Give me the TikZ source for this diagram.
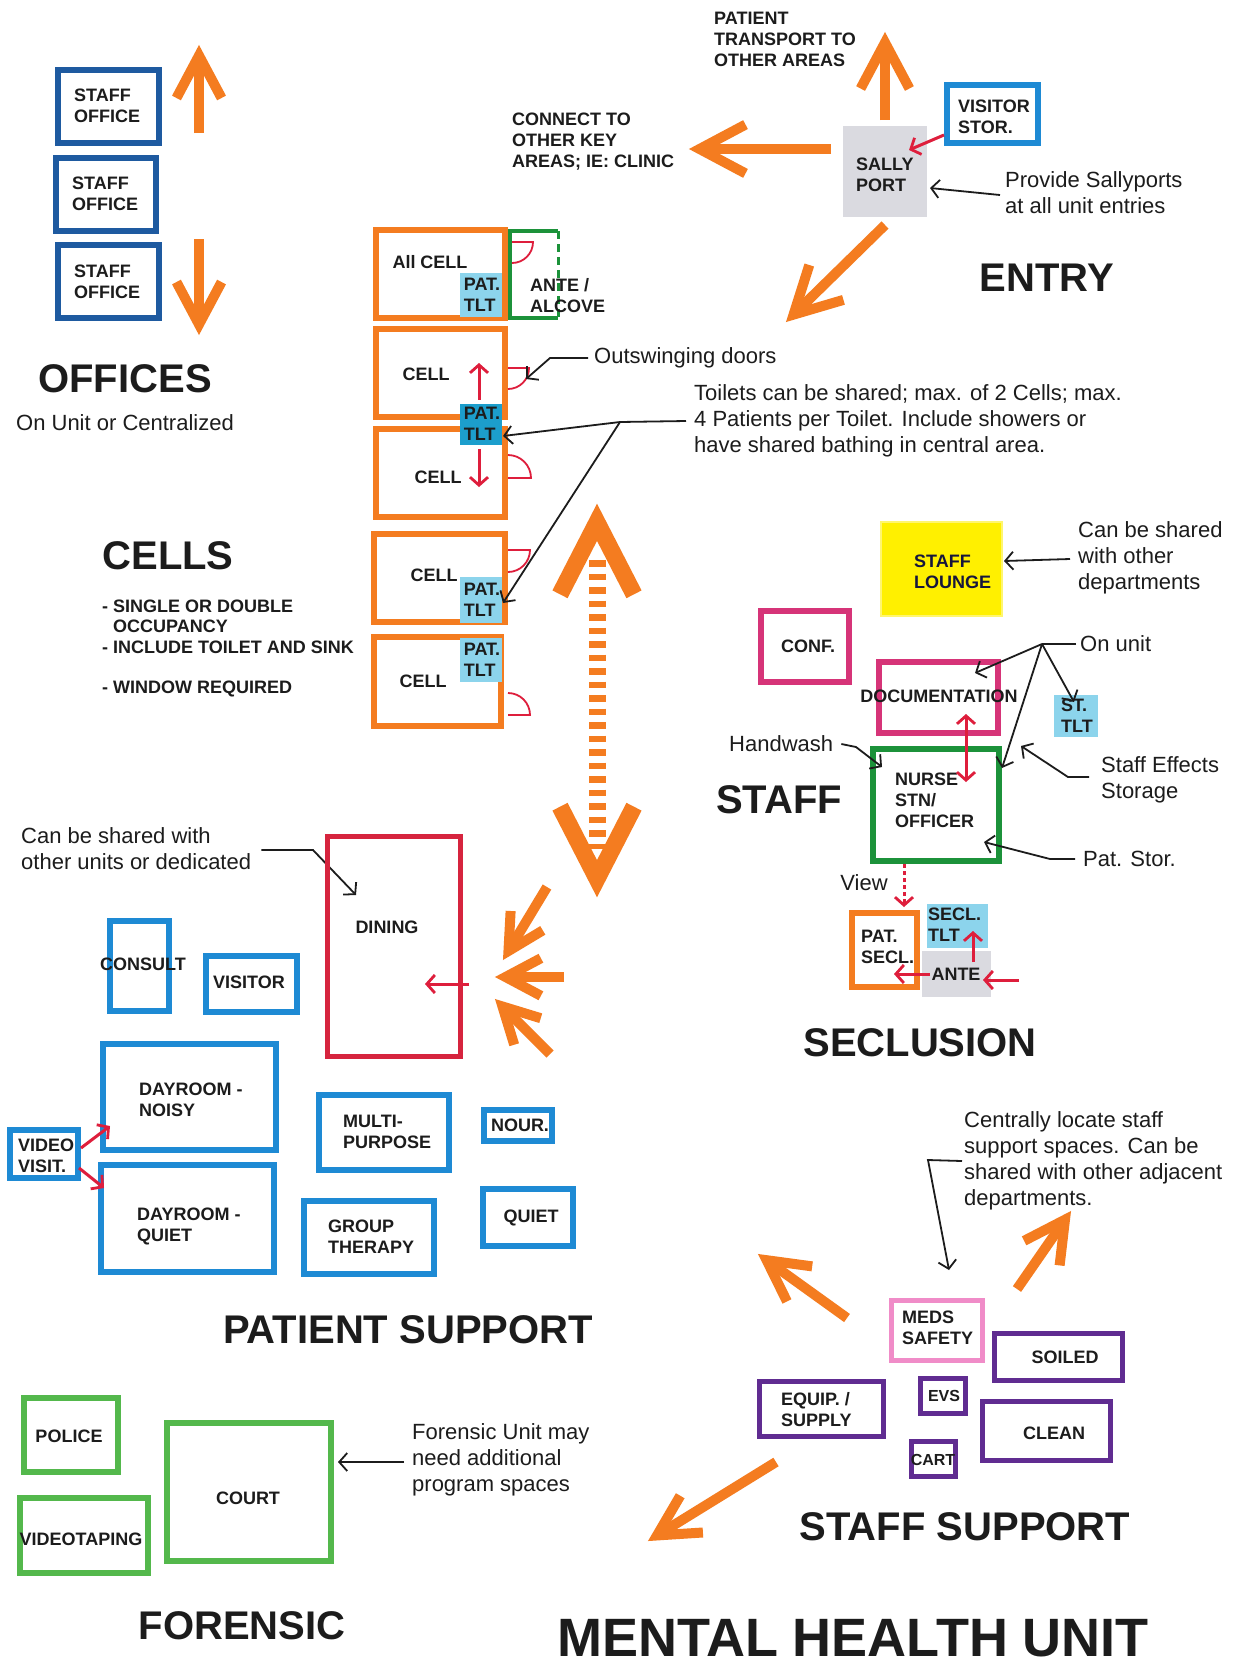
\documentclass[tikz,border=0pt]{standalone}
\usepackage{fontspec}
\setmainfont{Liberation Sans}
\usetikzlibrary{calc,arrows.meta,fit}

\definecolor{ink}{RGB}{28,28,28}
\definecolor{orangec}{RGB}{244,124,32}
\definecolor{offblue}{RGB}{30,90,160}
\definecolor{psblue}{RGB}{30,138,212}
\definecolor{tltlight}{RGB}{140,212,236}
\definecolor{tltdark}{RGB}{28,158,204}
\definecolor{redc}{RGB}{222,30,60}
\definecolor{dinred}{RGB}{214,36,62}
\definecolor{pinkc}{RGB}{214,52,120}
\definecolor{medpink}{RGB}{240,140,200}
\definecolor{purplec}{RGB}{96,44,145}
\definecolor{nursegreen}{RGB}{28,146,58}
\definecolor{forgreen}{RGB}{84,184,76}
\definecolor{lounge}{RGB}{255,240,0}
\definecolor{loungeedge}{RGB}{255,246,110}
\definecolor{portgray}{RGB}{218,218,224}
\definecolor{navyink}{RGB}{22,22,60}

\tikzset{
  roombox/.style={line width=6pt, inner sep=-3pt},
  padbox/.style={inner sep=0pt, draw=none},
  lbl/.style={font=\bfseries\fontsize{18}{21}\selectfont, text=ink, align=left, inner sep=0pt},
  smlbl/.style={font=\bfseries\fontsize{16}{19}\selectfont, text=ink, align=left, inner sep=0pt},
  note/.style={font=\fontsize{22}{26}\selectfont, text=ink, align=left, inner sep=0pt},
  head/.style={font=\bfseries\fontsize{40}{44}\selectfont, text=ink, inner sep=0pt},
  lead/.style={line width=1.8pt, draw=ink, -{Straight Barb[length=8pt,width=18pt,line width=1.8pt]}},
  redtip/.tip={Straight Barb[length=8pt,width=18pt,line width=2.8pt]},
  redarr/.style={line width=3pt, draw=redc, -redtip},
  door/.style={line width=1.8pt, draw=redc},
  orarr/.style={line width=10pt, draw=orangec},
}

% a room outline whose outer edge runs through the two given corners
\newcommand\room[5][]{\node[roombox,draw=#3,#1,fit={#4 #5}] (#2) {};}
% a filled space without outline
\newcommand\pad[4]{\node[padbox,fill=#2,fit={#3 #4}] (#1) {};}
% thick orange flow arrow from a start coordinate to a tip coordinate
\newcommand\orarrow[3][48]{%
  \path ($(#3)!10.6pt!(#2)$) coordinate (oa-v);
  \draw[orarr] (#2) -- (oa-v);
  \draw[orarr, line join=miter] ($(oa-v)!#1pt!28:(#2)$) -- (oa-v) -- ($(oa-v)!#1pt!-28:(#2)$);
}

\begin{document}
\begin{tikzpicture}[x=1pt,y=-1pt]
\useasboundingbox[fill=white] (0,0) rectangle (1239,1666);

% ---------------- OFFICES ----------------
\room{off1}{offblue}{(55,67)}{(162,146)}
\room{off2}{offblue}{(53,155)}{(159,234)}
\room{off3}{offblue}{(55,242)}{(162,321)}
\node[lbl,anchor=west] (off1t) at (74,106) {STAFF\\OFFICE};
\node[lbl,anchor=west] (off2t) at (72,194) {STAFF\\OFFICE};
\node[lbl,anchor=west] (off3t) at (74,282) {STAFF\\OFFICE};
\coordinate (offup-s) at (199,133); \coordinate (offup-t) at (199,45);
\orarrow[48]{offup-s}{offup-t}
\coordinate (offdn-s) at (199,239); \coordinate (offdn-t) at (199,335);
\orarrow[48]{offdn-s}{offdn-t}
\node[head] (offh) at (125,379) {OFFICES};
\node[note] (offn) at (125,423) {On Unit or Centralized};

% ---------------- ENTRY ----------------
\node[lbl,anchor=west] (transp) at (714,39) {PATIENT\\TRANSPORT TO\\OTHER AREAS};
\node[lbl,anchor=west] (connect) at (512,142) {CONNECT TO\\OTHER KEY\\AREAS; IE: CLINIC};
\pad{sally}{portgray}{(843,126)}{(927,217)}
\node[lbl,anchor=west] (sallyt) at (856,175) {SALLY\\PORT};
\room{vstor}{psblue}{(944,82)}{(1041,146)}
\node[lbl,anchor=west] (vstort) at (958,117) {VISITOR\\STOR.};
\coordinate (entup-s) at (885,120); \coordinate (entup-t) at (885,32);
\orarrow[52]{entup-s}{entup-t}
\coordinate (entl-s) at (831,149); \coordinate (entl-t) at (689,149);
\orarrow[52]{entl-s}{entl-t}
\coordinate (entd-s) at (885,225); \coordinate (entd-t) at (786,322);
\orarrow[52]{entd-s}{entd-t}
\coordinate (vstor-tip) at (909,150);
\draw[redarr] ($(vstor.west)+(0,21)$) -- (vstor-tip);
\node[note,anchor=west] (sallynote) at (1005,193) {Provide Sallyports\\at all unit entries};
\coordinate (sally-tip) at (930,188);
\draw[lead] ($(sallynote.west)+(-5,2)$) -- (sally-tip);
\node[head] (entryh) at (1047,278) {ENTRY};

% ---------------- CELLS ----------------
\room{c1}{orangec}{(373,227)}{(508,321)}
\room{c2}{orangec}{(373,326)}{(508,420)}
\room{c3}{orangec}{(373,426)}{(508,520)}
\room{c4}{orangec}{(371,531)}{(508,625)}
\room{c5}{orangec}{(371,634)}{(504,729)}
\pad{t1}{tltlight}{(460,273)}{(502,317)}
\pad{t23}{tltdark}{(460,404)}{(502,445)}
\pad{t4}{tltlight}{(460,577)}{(502,623)}
\pad{t5}{tltlight}{(460,638)}{(502,682)}
\node[lbl] (c1t) at (430,262) {All CELL};
\node[lbl] (c2t) at (426,374) {CELL};
\node[lbl] (c3t) at (438,477) {CELL};
\node[lbl] (c4t) at (434,575) {CELL};
\node[lbl] (c5t) at (423,681) {CELL};
\node[lbl] (t1t) at (482,295) {PAT.\\TLT};
\node[lbl] (t23t) at (482,424) {PAT.\\TLT};
\node[lbl] (t4t) at (482,600) {PAT.\\TLT};
\node[lbl] (t5t) at (482,660) {PAT.\\TLT};
% ante / alcove with open (dashed) side
\draw[line width=3.5pt, nursegreen] (558,231) -- (510,231) -- (510,318) -- (558,318);
\draw[line width=3pt, nursegreen, dash pattern=on 8pt off 5pt] (558,231) -- (558,318);
\node[lbl,anchor=west] (antet) at (530,296) {ANTE /\\ALCOVE};
% door swings
\draw[door] (512,242) -- (533,242) arc[start angle=0,end angle=-90,radius=21pt];
\draw[door] (508,368) -- (529,368) arc[start angle=0,end angle=-90,radius=21pt];
\draw[door] (508,455) arc[start angle=90,end angle=0,radius=23pt] -- (508,478);
\draw[door] (508,550) -- (530,550) arc[start angle=0,end angle=-90,radius=22pt];
\draw[door] (508,693) arc[start angle=90,end angle=0,radius=22pt] -- (508,715);
% shared toilet access
\coordinate (tup) at (479,363); \coordinate (tdn) at (479,487);
\draw[redarr] (t23.north -| tup) ++(0,-4) -- (tup);
\draw[redarr] (t23.south -| tdn) ++(0,4) -- (tdn);
\node[note,anchor=west] (outsw) at (594,358) {Outswinging doors};
\coordinate (outsw-b) at (550,358); \coordinate (outsw-tip) at (526,379);
\draw[lead] ($(outsw.west)+(-6,0)$) -- (outsw-b) -- (outsw-tip);
\node[note,anchor=west] (toil) at (694,421) {Toilets can be shared; max. of 2 Cells; max.\\4 Patients per Toilet. Include showers or\\have shared bathing in central area.};
\coordinate (tjun) at (620,422); \coordinate (ttip1) at (503,436); \coordinate (ttip2) at (503,603);
\draw[lead] ($(toil.west)+(-8,0)$) -- (tjun) -- (ttip1);
\draw[lead] (tjun) -- (ttip2);
\node[head] (cellsh) at (168,556) {CELLS};
\node[lbl,anchor=west] (b1) at (102,606) {- SINGLE OR DOUBLE};
\node[lbl,anchor=west] (b1b) at (113,626) {OCCUPANCY};
\node[lbl,anchor=west] (b2) at (102,647) {- INCLUDE TOILET AND SINK};
\node[lbl,anchor=west] (b3) at (102,689) {- WINDOW REQUIRED};

% ---------------- CIRCULATION ----------------
\coordinate (dtop) at (597,504); \coordinate (dbot) at (597,897);
\draw[orangec, line width=17pt, dash pattern=on 6.5pt off 7pt] ($(dtop)+(0,56)$) -- ($(dbot)+(0,-48)$);
\path ($(dtop)+(0,18.3)$) coordinate (dtv) ($(dbot)+(0,-18.3)$) coordinate (dbv);
\draw[orangec, line width=17pt, line join=miter] ($(dtv)+(-37,72)$) -- (dtv) -- ($(dtv)+(37,72)$);
\draw[orangec, line width=17pt, line join=miter] ($(dbv)+(-37,-72)$) -- (dbv) -- ($(dbv)+(37,-72)$);

% ---------------- STAFF ----------------
\node[padbox,fill=lounge,draw=loungeedge,line width=2pt,inner sep=-1pt,fit={(880,521) (1003,617)}] (lounge) {};
\node[lbl,text=navyink,anchor=west] (lounget) at (914,572) {STAFF\\LOUNGE};
\node[note,anchor=west] (sharednote) at (1078,558) {Can be shared\\with other\\departments};
\coordinate (lounge-tip) at (1004,561);
\draw[lead] ($(sharednote.west)+(-8,1)$) -- (lounge-tip);
\room{conf}{pinkc}{(758,608)}{(852,685)}
\node[lbl] (conft) at (808,646) {CONF.};
\room{doc}{pinkc}{(876,659)}{(1001,736)}
\node[lbl] (doct) at (939,696) {DOCUMENTATION};
\pad{sttlt}{tltlight}{(1054,695)}{(1098,737)}
\node[lbl] (sttltt) at (1077,716) {ST.\\TLT};
\room{nurse}{nursegreen}{(870,746)}{(1002,864)}
\node[lbl,anchor=west] (nurset) at (895,800) {NURSE\\STN/\\OFFICER};
\draw[redarr, redtip-redtip] (966,714) -- (966,782);
\node[note,anchor=west] (onunit) at (1080,644) {On unit};
\coordinate (ojun) at (1042,644);
\coordinate (otip1) at (975,673); \coordinate (otip2) at (1074,702); \coordinate (otip3) at (1002,768);
\draw[line width=1.8pt, ink] ($(onunit.west)+(-4,0)$) -- (ojun);
\draw[lead] (ojun) -- (otip1);
\draw[lead] (ojun) -- (otip2);
\draw[lead] (ojun) -- (otip3);
\node[note,anchor=west] (effects) at (1101,780) {Staff Effects\\Storage};
\coordinate (eff-b) at (1068,777); \coordinate (eff-tip) at (1021,746);
\draw[lead] ($(effects.west)+(-12,-3)$) -- (eff-b) -- (eff-tip);
\node[note,anchor=west] (handwash) at (729,744) {Handwash};
\coordinate (hw-b) at (856,747); \coordinate (hw-tip) at (882,767);
\draw[lead] ($(handwash.east)+(8,0)$) -- (hw-b) -- (hw-tip);
\node[note,anchor=west] (patstor) at (1083,859) {Pat. Stor.};
\coordinate (ps-b) at (1050,859); \coordinate (ps-tip) at (984,842);
\draw[lead] ($(patstor.west)+(-8,0)$) -- (ps-b) -- (ps-tip);
\node[head] (staffh) at (779,800) {STAFF};

% ---------------- SECLUSION ----------------
\node[note] (view) at (864,883) {View};
\room{psecl}{orangec}{(849,910)}{(920,990)}
\pad{secltlt}{tltlight}{(927,904)}{(988,948)}
\pad{ante}{portgray}{(922,951)}{(991,997)}
\node[lbl,anchor=west] (psecltxt) at (861,947) {PAT.\\SECL.};
\node[lbl,anchor=west] (secltlttxt) at (928,925) {SECL.\\TLT};
\node[lbl] (antetxt) at (956,974) {ANTE};
\coordinate (view-tip) at (904,907);
\draw[redarr, dash pattern=on 4pt off 3pt] (nurse.south -| view-tip) -- (view-tip);
\coordinate (ante-l) at (894,974); \coordinate (ante-u) at (973,931); \coordinate (ante-in) at (983,980);
\draw[redarr] ($(ante.west)+(8,0)$) -- (ante-l);
\draw[redarr] (973,962) -- (ante-u);
\draw[redarr] (1019,980) -- (ante-in);
\node[head] (seclh) at (920,1043) {SECLUSION};

% ---------------- PATIENT SUPPORT ----------------
\node[note,anchor=west] (dinnote) at (21,849) {Can be shared with\\other units or dedicated};
\coordinate (dn-b) at (313,850); \coordinate (dn-tip) at (356,895);
\draw[lead] ($(dinnote.east)+(10,1)$) -- (dn-b) -- (dn-tip);
\room[line width=5pt,inner sep=-2.5pt]{dining}{dinred}{(325,834)}{(463,1059)}
\node[lbl] (dint) at (387,927) {DINING};
\coordinate (din-tip) at (425,984);
\draw[redarr] (469,984) -- (din-tip);
\coordinate (pa1-s) at (547,887); \coordinate (pa1-t) at (503,960);
\orarrow[40]{pa1-s}{pa1-t}
\coordinate (pa2-s) at (564,977); \coordinate (pa2-t) at (495,977);
\orarrow[40]{pa2-s}{pa2-t}
\coordinate (pa3-s) at (550,1054); \coordinate (pa3-t) at (495,999);
\orarrow[40]{pa3-s}{pa3-t}
\room{consult}{psblue}{(107,918)}{(172,1014)}
\node[lbl] (consultt) at (143,964) {CONSULT};
\room{visitor}{psblue}{(203,953)}{(300,1015)}
\node[lbl] (visitort) at (249,982) {VISITOR};
\room{noisy}{psblue}{(100,1041)}{(279,1153)}
\node[lbl,anchor=west] (noisyt) at (139,1100) {DAYROOM -\\NOISY};
\room{quietd}{psblue}{(98,1162)}{(277,1275)}
\node[lbl,anchor=west] (quietdt) at (137,1226) {DAYROOM -\\QUIET};
\room{vv}{psblue}{(7,1127)}{(81,1181)}
\node[lbl,anchor=west] (vvt) at (18,1156) {VIDEO\\VISIT.};
\coordinate (vv-t1) at (110,1126); \coordinate (vv-t2) at (104,1188);
\draw[redarr] ($(vv.east)+(0,-6)$) -- (vv-t1);
\draw[redarr] ($(vv.east)+(-2,14)$) -- (vv-t2);
\room{multi}{psblue}{(316,1092)}{(452,1173)}
\node[lbl,anchor=west] (multit) at (343,1132) {MULTI-\\PURPOSE};
\room{nour}{psblue}{(481,1107)}{(555,1144)}
\node[lbl] (nourt) at (520,1125) {NOUR.};
\room{group}{psblue}{(301,1198)}{(437,1277)}
\node[lbl,anchor=west] (groupt) at (328,1237) {GROUP\\THERAPY};
\room{quiet}{psblue}{(480,1186)}{(576,1249)}
\node[lbl] (quiett) at (531,1218) {QUIET};
\node[head] (psh) at (408,1330) {PATIENT SUPPORT};

% ---------------- STAFF SUPPORT ----------------
\node[note,anchor=west] (ssnote) at (964,1161) {Centrally locate staff\\support spaces. Can be\\shared with other adjacent\\departments.};
\coordinate (ss-b) at (928,1160); \coordinate (ss-tip) at (949,1270);
\draw[lead] ($(ssnote.west)+(-2,0)$) -- (ss-b) -- (ss-tip);
\coordinate (sa1-s) at (847,1318); \coordinate (sa1-t) at (758,1254);
\orarrow[46]{sa1-s}{sa1-t}
\coordinate (sa2-s) at (1017,1289); \coordinate (sa2-t) at (1071,1211);
\orarrow[46]{sa2-s}{sa2-t}
\coordinate (sa3-s) at (776,1462); \coordinate (sa3-t) at (648,1541);
\orarrow[46]{sa3-s}{sa3-t}
\room[line width=5pt,inner sep=-2.5pt]{meds}{medpink}{(889,1298)}{(985,1363)}
\node[lbl,anchor=west] (medst) at (902,1328) {MEDS\\SAFETY};
\room[line width=5pt,inner sep=-2.5pt]{soiled}{purplec}{(992,1331)}{(1125,1383)}
\node[lbl] (soiledt) at (1065,1357) {SOILED};
\room[line width=5pt,inner sep=-2.5pt]{equip}{purplec}{(757,1379)}{(886,1439)}
\node[lbl,anchor=west] (equipt) at (781,1410) {EQUIP. /\\SUPPLY};
\room[line width=5pt,inner sep=-2.5pt]{evs}{purplec}{(918,1376)}{(968,1416)}
\node[smlbl] (evst) at (944,1396) {EVS};
\room[line width=5pt,inner sep=-2.5pt]{clean}{purplec}{(980,1399)}{(1113,1463)}
\node[lbl] (cleant) at (1054,1433) {CLEAN};
\room[line width=5pt,inner sep=-2.5pt]{cart}{purplec}{(909,1439)}{(958,1479)}
\node[smlbl] (cartt) at (933,1460) {CART};
\node[head] (ssh) at (965,1527) {STAFF SUPPORT};

% ---------------- FORENSIC ----------------
\room{police}{forgreen}{(21,1395)}{(121,1475)}
\node[lbl] (policet) at (69,1436) {POLICE};
\room{video}{forgreen}{(17,1495)}{(151,1576)}
\node[lbl] (videot) at (81,1539) {VIDEOTAPING};
\room{court}{forgreen}{(164,1420)}{(334,1564)}
\node[lbl] (courtt) at (248,1498) {COURT};
\node[note,anchor=west] (fornote) at (412,1460) {Forensic Unit may\\need additional\\program spaces};
\coordinate (court-tip) at (338,1462);
\draw[lead] ($(fornote.west)+(-8,2)$) -- (court-tip);
\node[head] (forh) at (242,1626) {FORENSIC};

\node[head,font=\bfseries\fontsize{54}{60}\selectfont] (mhu) at (853,1638) {MENTAL HEALTH UNIT};
\end{tikzpicture}
\end{document}
